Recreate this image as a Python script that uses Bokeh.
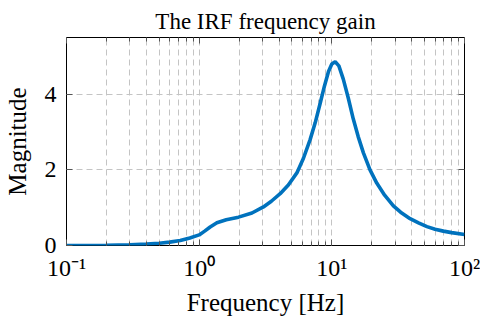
from bokeh.plotting import figure
from bokeh.models import (Range1d, FixedTicker, LogAxis, LinearAxis,
                          ColumnDataSource, CustomJSTickFormatter)
from bokeh.embed import file_html
from bokeh.resources import INLINE

# ---- data ----
freq = [0.1, 0.2, 0.3, 0.4, 0.5, 0.6, 0.72, 0.85, 1.0, 1.1, 1.21, 1.36, 1.6,
        1.98, 2.5, 3.05, 3.5, 4.08, 4.7, 5.45, 6.1, 6.86, 7.5, 8.17, 8.8, 9.44,
        10.0, 10.6, 11.3, 12.2, 13.3, 14.5, 15.8, 17.3, 19.4, 21.8, 25.0, 29.1,
        33.0, 38.9, 45.0, 52.1, 60.0, 69.3, 80.0, 100.0]
mag = [0.0, 0.005, 0.02, 0.04, 0.06, 0.09, 0.13, 0.2, 0.28, 0.38, 0.49, 0.6,
       0.68, 0.75, 0.86, 1.02, 1.17, 1.37, 1.6, 1.92, 2.3, 2.8, 3.25, 3.76,
       4.22, 4.6, 4.8, 4.86, 4.75, 4.4, 3.9, 3.35, 2.88, 2.45, 2.0, 1.65, 1.33,
       1.05, 0.88, 0.71, 0.6, 0.5, 0.43, 0.38, 0.34, 0.29]

x_major = [0.1, 1, 10, 100]
x_labels = ["10\u207b\u00b9", "10\u2070", "10\u00b9", "10\u00b2"]
x_minor = [m * d for d in (0.1, 1, 10) for m in range(2, 10)]
y_major = [0, 2, 4]
y_labels = ["0", "2", "4"]

title_text = "The IRF frequency gain"
x_title = "Frequency [Hz]"
y_title = "Magnitude"

FONT = "Liberation Serif"
FS = "24px"
LFS = "25px"
GRID = "#c4c4c4"
TICK = "#555555"

p = figure(width=480, height=318, x_axis_type="log",
           x_range=Range1d(0.1, 100), y_range=Range1d(0, 5.5),
           output_backend="svg", toolbar_location=None,
           min_border_left=66, min_border_right=16, min_border_top=37,
           min_border_bottom=73)
p.background_fill_color = "white"
p.border_fill_color = "white"
p.outline_line_color = "black"
p.outline_line_width = 1

p.title.text = title_text
p.title.text_font = FONT
p.title.text_font_size = "23px"
p.title.text_font_style = "normal"
p.title.align = "center"
p.title.standoff = 7
p.title.text_color = "black"

xt = FixedTicker(ticks=x_major, minor_ticks=x_minor)
yt = FixedTicker(ticks=y_major, minor_ticks=[])

label_code = """
let best = 0, bd = Infinity;
for (let i = 0; i < ticks_v.length; i++) {
  const d = Math.abs(Math.log10(tick) - Math.log10(ticks_v[i] || 1e-12));
  if (d < bd) { bd = d; best = i; }
}
return labels[best];
"""
lin_code = """
let best = 0, bd = Infinity;
for (let i = 0; i < ticks_v.length; i++) {
  const d = Math.abs(tick - ticks_v[i]);
  if (d < bd) { bd = d; best = i; }
}
return labels[best];
"""

# bottom axis
xa = p.xaxis[0]
xa.ticker = xt
xa.formatter = CustomJSTickFormatter(args=dict(ticks_v=x_major, labels=x_labels),
                                     code=label_code)
xa.axis_label = x_title
xa.axis_label_text_font = FONT
xa.axis_label_text_font_size = LFS
xa.axis_label_text_font_style = "normal"
xa.axis_label_text_color = "black"
xa.axis_label_standoff = 5
xa.major_label_text_font = FONT
xa.major_label_text_font_size = FS
xa.major_label_text_color = "black"
xa.major_label_standoff = 9
xa.axis_line_color = None
xa.major_tick_in = 6
xa.major_tick_out = 0
xa.minor_tick_in = 4
xa.minor_tick_out = 0
xa.major_tick_line_color = TICK
xa.minor_tick_line_color = TICK

# left axis
ya = p.yaxis[0]
ya.ticker = yt
ya.formatter = CustomJSTickFormatter(args=dict(ticks_v=y_major, labels=y_labels),
                                     code=lin_code)
ya.axis_label = y_title
ya.axis_label_text_font = FONT
ya.axis_label_text_font_size = LFS
ya.axis_label_text_font_style = "normal"
ya.axis_label_text_color = "black"
ya.axis_label_standoff = 11
ya.major_label_text_font = FONT
ya.major_label_text_font_size = FS
ya.major_label_text_color = "black"
ya.major_label_standoff = 10
ya.major_label_orientation = "horizontal"
ya.axis_line_color = None
ya.major_tick_in = 6
ya.major_tick_out = 0
ya.minor_tick_line_color = None
ya.major_tick_line_color = TICK

# top and right axes (ticks only)
top = LogAxis(ticker=xt, formatter=CustomJSTickFormatter(code="return '';"),
              axis_line_color=None, major_tick_in=6, major_tick_out=0,
              minor_tick_in=4, minor_tick_out=0, major_label_standoff=0,
              major_tick_line_color=TICK, minor_tick_line_color=TICK)
p.add_layout(top, "above")
right = LinearAxis(ticker=yt, formatter=CustomJSTickFormatter(code="return '';"),
                   axis_line_color=None, major_tick_in=6, major_tick_out=0,
                   minor_tick_line_color=None, major_label_standoff=0,
                   major_tick_line_color=TICK)
p.add_layout(right, "right")

# grids
p.xgrid.ticker = xt
p.xgrid.grid_line_color = GRID
p.xgrid.grid_line_dash = "6 4"
p.xgrid.minor_grid_line_color = GRID
p.xgrid.minor_grid_line_dash = "6 4"
p.ygrid.ticker = yt
p.ygrid.grid_line_color = GRID
p.ygrid.grid_line_dash = "6 4"

src = ColumnDataSource(dict(f=freq, m=mag))
p.line("f", "m", source=src, line_color="#0072BD", line_width=3.6)

open("out.html", "w").write(file_html(p, INLINE))
